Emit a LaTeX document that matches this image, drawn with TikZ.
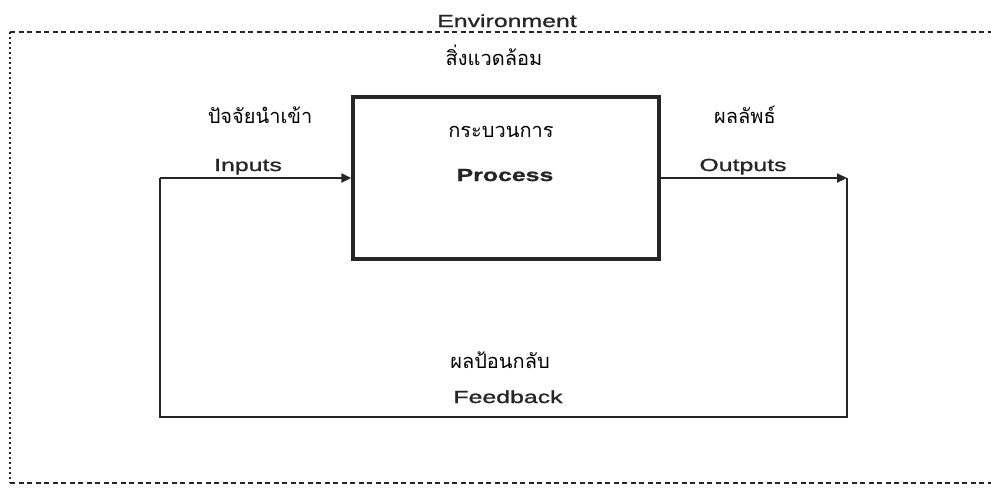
\documentclass[tikz,border=0pt]{standalone}
\usepackage{fontspec}
\setmainfont{Liberation Sans}
\newfontfamily\latfont[FakeStretch=1.42,FakeBold=1.2]{Liberation Sans}
\newfontfamily\thaifont[Script=Thai]{Loma}
\usetikzlibrary{arrows.meta}
\definecolor{ink}{HTML}{262626}
\begin{document}
\begin{tikzpicture}[x=1pt,y=-1pt,
  lat/.style={font=\latfont\fontsize{17.5}{20}\selectfont, text=ink, inner sep=0pt, anchor=base},
  latb/.style={font=\latfont\bfseries\fontsize{17.5}{20}\selectfont, text=ink, inner sep=0pt, anchor=base},
  th/.style={font=\thaifont\fontsize{20}{24}\selectfont, text=black, inner sep=0pt, anchor=base},
  env/.style={draw=ink, line width=1.4pt, dash pattern=on 5pt off 3.5pt},
  envv/.style={draw=ink, line width=1.4pt, dash pattern=on 2pt off 3pt},
  flow/.style={draw=ink, line width=2.2pt},
  tip/.style={-{Triangle[length=10pt,width=9pt]}},
  procbox/.style={draw=ink, line width=3.4pt, minimum width=306pt, minimum height=162pt, inner sep=0pt}
]
\useasboundingbox (0,0) rectangle (991,493);
% environment frame
\coordinate (eTL) at (10,32);
\coordinate (eTR) at (991,32);
\coordinate (eBL) at (10,483);
\coordinate (eBR) at (991,483);
\draw[env] (eTL) -- (eTR);
\draw[env] (eBL) -- (eBR);
\draw[envv] (eTL) -- (eBL);
% process
\node[procbox] (proc) at (506,178) {};
% loop coordinates
\coordinate (inL) at (160,178);
\coordinate (outR) at (847,178);
\coordinate (fbR) at (847,417);
\coordinate (fbL) at (160,417);
\draw[flow,tip] (inL) -- (proc.west);
\draw[flow,tip] (proc.east) -- (outR);
\draw[flow] (outR) -- (fbR) -- (fbL) -- (inL);
% texts
\node[lat] (tEnv) at (507,27) {Environment};
\node[th] (tEnvTh) at (494,65) {สิ่งแวดล้อม};
\node[th] (tInTh) at (260,123) {ปัจจัยนำเข้า};
\node[lat] (tIn) at (248,171) {Inputs};
\node[th] (tProcTh) at (501,137) {กระบวนการ};
\node[latb] (tProc) at (505,181) {Process};
\node[th] (tOutTh) at (745,123) {ผลลัพธ์};
\node[lat] (tOut) at (743,171) {Outputs};
\node[th] (tFbTh) at (500,368) {ผลป้อนกลับ};
\node[lat] (tFb) at (508,403) {Feedback};
\end{tikzpicture}
\end{document}
